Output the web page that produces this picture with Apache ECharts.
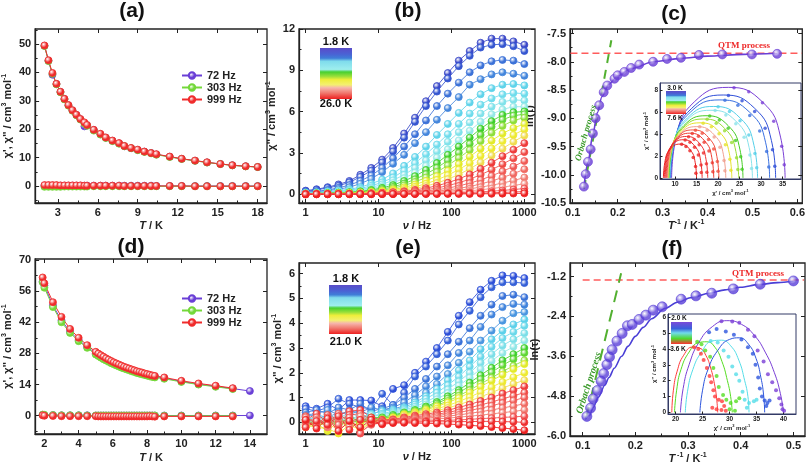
<!DOCTYPE html>
<html><head><meta charset="utf-8">
<script src="https://cdn.jsdelivr.net/npm/echarts@6/dist/echarts.min.js"></script>
<style>html,body{margin:0;padding:0;background:#fff}#c{width:808px;height:468px}</style>
</head><body><div id="c"></div>
<script>
// ---------- DATA ----------
// (a)
const aT = [2.0,2.3,2.6,2.9,3.2,3.5,3.8,4.1,4.4,4.7,5.0,5.2,5.7,6.2,6.6,7.1,7.6,8.0,8.5,9.0,9.5,10.0,10.4,11.4,12.3,13.3,14.2,15.2,16.1,17.1,18.0];
const a72p  = [49.4,44.1,39.2,35.9,33.1,30.6,28.4,26.6,25.0,23.5,21.0,21.3,19.7,18.2,17.0,15.9,15.0,14.0,13.3,12.7,12.1,11.6,11.1,10.3,9.55,8.9,8.3,7.75,7.3,6.95,6.7];
const a303p = [49.3,44.0,39.5,35.8,33.0,30.5,28.3,26.5,24.9,23.4,22.0,21.2,19.5,18.1,16.9,15.8,14.9,14.0,13.3,12.6,12.0,11.5,11.0,10.2,9.5,8.85,8.25,7.7,7.25,6.9,6.65];
const a999p = [49.5,44.3,39.8,36.0,33.2,30.7,28.5,26.7,25.1,23.6,22.4,21.5,19.8,18.4,17.1,16.0,15.1,14.1,13.4,12.8,12.1,11.6,11.2,10.35,9.6,8.95,8.35,7.75,7.3,6.95,6.7];
const a72pp  = [0.1,0.1,0.1,0.1,0.1,0.1,0.1,0.1,0.1,0.1,0.1,0.1,0.1,0.1,0.1,0.1,0.1,0.1,0.1,0.1,0.1,0.1,0.0,0.0,0.0,0.0,0.0,0.0,0.0,0.0,0.0];
const a303pp = [-0.3,-0.3,-0.3,-0.3,-0.3,-0.2,-0.2,-0.2,-0.2,-0.2,-0.2,-0.2,-0.1,-0.1,-0.1,-0.1,-0.1,-0.1,-0.1,-0.1,-0.1,-0.1,-0.1,-0.1,-0.1,-0.1,-0.1,-0.1,-0.1,-0.1,-0.1];
const a999pp = [0.3,0.3,0.3,0.3,0.2,0.2,0.2,0.2,0.2,0.2,0.1,0.1,0.1,0.1,0.1,0.1,0.1,0.0,0.0,0.0,0.0,0.0,0.0,0.0,0.0,-0.1,-0.1,-0.1,-0.1,-0.1,-0.1];
const aXTicks = [3,6,9,12,15,18];
const aYTicks = [0,10,20,30,40,50];
const aXMinor = [1.5,4.5,7.5,10.5,13.5,16.5];
const aYMinor = [-5,5,15,25,35,45,55];

// (b) and (e) frequencies
const nuHz = [1,1.41,2,2.82,3.98,5.62,7.94,11.2,15.8,22.4,31.6,44.7,63.1,89.1,126,178,251,355,501,708,1000];
const nuTicks = [1,10,100,1000];
const nuMinor = [0.9,2,3,4,5,6,7,8,9,20,30,40,50,60,70,80,90,200,300,400,500,600,700,800,900];
// (b) chi'' curves, 1.8 K (top) -> 26.0 K (bottom)
const b01 = [0.25,0.35,0.5,0.7,0.95,1.4,1.9,2.5,3.35,4.4,5.55,6.75,7.85,8.8,9.7,10.4,11.0,11.3,11.3,11.1,10.85];
const b02 = [0.2,0.3,0.45,0.6,0.85,1.25,1.7,2.3,3.1,4.1,5.25,6.4,7.45,8.4,9.3,10.05,10.65,10.85,10.9,10.75,10.4];
const b03 = [0.15,0.2,0.3,0.45,0.65,0.95,1.35,1.9,2.6,3.45,4.35,5.35,6.4,7.3,8.1,8.85,9.35,9.65,9.75,9.7,9.45];
const b04 = [0.1,0.15,0.25,0.35,0.5,0.75,1.1,1.6,2.2,2.85,3.7,4.5,5.4,6.25,7.05,7.95,8.35,8.7,8.85,8.75,8.6];
const b05 = [0.1,0.12,0.18,0.25,0.35,0.5,0.75,1.05,1.5,2.05,2.7,3.45,4.3,5.1,5.9,6.65,7.25,7.7,7.95,8.0,7.9];
const b06 = [0.08,0.1,0.14,0.2,0.28,0.4,0.6,0.85,1.2,1.7,2.25,2.9,3.6,4.35,5.1,5.85,6.5,6.95,7.25,7.35,7.3];
const b07 = [0.06,0.08,0.11,0.15,0.22,0.32,0.48,0.7,1.0,1.4,1.9,2.45,3.1,3.8,4.5,5.2,5.85,6.35,6.7,6.85,6.8];
const b08 = [0.05,0.06,0.09,0.12,0.18,0.26,0.38,0.56,0.8,1.15,1.55,2.05,2.65,3.25,3.9,4.6,5.25,5.8,6.15,6.35,6.35];
const b09 = [0.04,0.05,0.07,0.1,0.14,0.2,0.3,0.45,0.65,0.95,1.3,1.75,2.25,2.85,3.45,4.1,4.75,5.3,5.75,5.95,6.0];
const b10 = [0.03,0.04,0.06,0.08,0.11,0.16,0.24,0.36,0.52,0.76,1.07,1.45,1.9,2.45,3.0,3.65,4.3,4.9,5.4,5.7,5.8];
const b11 = [0.02,0.03,0.05,0.06,0.09,0.13,0.19,0.28,0.42,0.62,0.88,1.2,1.6,2.08,2.62,3.2,3.85,4.45,4.95,5.35,5.55];
const b12 = [0.02,0.02,0.03,0.05,0.07,0.1,0.15,0.22,0.33,0.48,0.69,0.96,1.3,1.7,2.18,2.72,3.3,3.88,4.4,4.8,5.1];
const b13 = [0.01,0.02,0.03,0.04,0.05,0.08,0.11,0.17,0.25,0.37,0.53,0.75,1.03,1.37,1.78,2.25,2.78,3.32,3.85,4.3,4.7];
const b14 = [0.01,0.01,0.02,0.03,0.04,0.06,0.09,0.13,0.19,0.28,0.41,0.58,0.8,1.08,1.42,1.83,2.3,2.8,3.3,3.8,4.25];
const b15 = [0.01,0.01,0.01,0.02,0.03,0.04,0.06,0.09,0.14,0.2,0.3,0.43,0.6,0.82,1.1,1.43,1.83,2.28,2.75,3.22,3.7];
const b16 = [0,0.01,0.01,0.01,0.02,0.03,0.05,0.07,0.1,0.15,0.22,0.31,0.44,0.61,0.82,1.08,1.4,1.77,2.17,2.6,3.05];
const b17 = [0,0,0.01,0.01,0.01,0.02,0.03,0.05,0.07,0.1,0.15,0.22,0.31,0.43,0.59,0.79,1.03,1.32,1.65,2.0,2.4];
const b18 = [0,0,0,0.01,0.01,0.01,0.02,0.03,0.05,0.07,0.1,0.15,0.21,0.3,0.41,0.55,0.73,0.95,1.2,1.48,1.8];
const b19 = [0,0,0,0,0.01,0.01,0.01,0.02,0.03,0.05,0.07,0.1,0.14,0.2,0.28,0.38,0.5,0.64,0.8,0.98,1.2];
const b20 = [0,0,0,0,0,0.01,0.01,0.01,0.02,0.03,0.04,0.06,0.09,0.13,0.18,0.24,0.31,0.4,0.5,0.62,0.75];
const b21 = [0,0,0,0,0,0,0,0.01,0.01,0.02,0.03,0.04,0.05,0.07,0.1,0.13,0.16,0.21,0.26,0.33,0.4];
const b22 = [0,0,0,0,0,0,0,0,0,0.01,0.01,0.02,0.03,0.04,0.05,0.06,0.07,0.09,0.12,0.15,0.18];
const b23 = [-0.03,-0.02,-0.02,-0.02,-0.01,-0.01,-0.01,0,0,0,0,0,0,0.01,0.01,0.01,0.02,0.02,0.03,0.04,0.05];
const bYTicks = [0,3,6,9,12];
const bYMinor = [1.5,4.5,7.5,10.5];

// (c) relaxation time vs 1/T
const cInvT  = [0.125,0.129,0.134,0.140,0.145,0.151,0.159,0.169,0.177,0.193,0.200,0.215,0.230,0.248,0.279,0.310,0.341,0.381,0.433,0.499,0.555];
const cLnTau = [-10.21,-9.99,-9.77,-9.55,-9.27,-9.0,-8.77,-8.54,-8.42,-8.30,-8.24,-8.18,-8.11,-8.05,-8.0,-7.95,-7.93,-7.88,-7.87,-7.87,-7.86];
const cFitX = [0.125,0.134,0.145,0.155,0.165,0.18,0.2,0.23,0.28,0.34,0.4,0.48,0.555];
const cFitY = [-10.22,-9.78,-9.28,-8.9,-8.62,-8.4,-8.25,-8.12,-8.0,-7.94,-7.9,-7.87,-7.85];
const cQtmX = [0.095,0.61];  const cQtmY = [-7.85,-7.85];
const cOrbX = [0.125,0.186]; const cOrbY = [-10.25,-7.62];
const cXTicks = [0.1,0.2,0.3,0.4,0.5,0.6];
const cYTicks = [-10.5,-10,-9.5,-9,-8.5,-8,-7.5];
const cXMinor = [0.15,0.25,0.35,0.45,0.55];
const cYMinor = [-10.25,-9.75,-9.25,-8.75,-8.25,-7.75];
// (c) inset Cole-Cole fits (3.0 K -> 7.6 K) and points
const cArc01 = [[9.2,0],[10.26,3.74],[14.48,6.97],[22.4,8.3],[30.32,6.97],[34.54,3.74],[35.6,0]];
const cArc02 = [[9.0,0],[9.98,3.42],[13.88,6.38],[21.2,7.6],[28.52,6.38],[32.42,3.42],[33.4,0]];
const cArc03 = [[8.9,0],[9.82,3.22],[13.52,6.01],[20.45,7.15],[27.38,6.01],[31.08,3.22],[32.0,0]];
const cArc04 = [[8.8,0],[9.62,2.95],[12.88,5.5],[19.0,6.55],[25.12,5.5],[28.38,2.95],[29.2,0]];
const cArc05 = [[8.7,0],[9.47,2.79],[12.56,5.21],[18.35,6.2],[24.14,5.21],[27.23,2.79],[28.0,0]];
const cArc06 = [[8.6,0],[9.29,2.57],[12.04,4.79],[17.2,5.7],[22.36,4.79],[25.11,2.57],[25.8,0]];
const cArc07 = [[8.5,0],[9.15,2.43],[11.76,4.54],[16.65,5.4],[21.54,4.54],[24.15,2.43],[24.8,0]];
const cArc08 = [[8.4,0],[8.99,2.27],[11.36,4.24],[15.8,5.05],[20.24,4.24],[22.61,2.27],[23.2,0]];
const cArc09 = [[8.3,0],[8.84,2.12],[11.0,3.95],[15.05,4.7],[19.1,3.95],[21.26,2.12],[21.8,0]];
const cArc10 = [[8.1,0],[8.58,1.98],[10.52,3.7],[14.15,4.4],[17.78,3.7],[19.72,1.98],[20.2,0]];
const cArc11 = [[7.9,0],[8.34,1.85],[10.12,3.44],[13.45,4.1],[16.78,3.44],[18.56,1.85],[19.0,0]];
const cArc12 = [[7.7,0],[8.1,1.71],[9.68,3.19],[12.65,3.8],[15.62,3.19],[17.2,1.71],[17.6,0]];
const cArc13 = [[7.5,0],[7.85,1.58],[9.26,2.94],[11.9,3.5],[14.54,2.94],[15.95,1.58],[16.3,0]];
const cArc14 = [[7.3,0],[7.61,1.4],[8.84,2.6],[11.15,3.1],[13.46,2.6],[14.69,1.4],[15.0,0]];
const cDot01 = [[23.72,8.26],[27.15,7.9],[30.32,6.9],[32.96,5.2],[34.81,2.9],[35.4,1.2]];
const cDot02 = [[22.42,7.56],[25.59,7.07],[28.52,6.08],[30.96,4.56],[32.67,2.58],[33.2,1.06]];
const cDot03 = [[21.61,7.11],[24.61,6.65],[27.38,5.72],[29.69,4.29],[31.31,2.43],[31.8,1.0]];
const cDot04 = [[20.02,6.52],[22.67,6.09],[25.12,5.24],[27.16,3.93],[28.59,2.23],[29.0,0.92]];
const cDot05 = [[19.32,6.17],[21.82,5.77],[24.14,4.96],[26.07,3.72],[27.42,2.11],[27.8,0.87]];
const cDot06 = [[18.06,5.67],[20.3,5.3],[22.36,4.56],[24.08,3.42],[25.28,1.94],[25.6,0.8]];
const cDot07 = [[17.47,5.37],[19.58,5.02],[21.54,4.32],[23.17,3.24],[24.31,1.84],[24.6,0.76]];
const cDot08 = [[16.54,5.02],[18.46,4.7],[20.24,4.04],[21.72,3.03],[22.76,1.72],[23.0,0.71]];
const cDot09 = [[15.73,4.68],[17.48,4.37],[19.1,3.76],[20.45,2.82],[21.4,1.6],[21.6,0.66]];
const cDot10 = [[14.76,4.38],[16.33,4.09],[17.78,3.52],[18.99,2.64],[19.84,1.5],[20.0,0.62]];
const cDot11 = [[14.01,4.08],[15.45,3.81],[16.78,3.28],[17.89,2.46],[18.67,1.39],[18.8,0.57]];
const cDot12 = [[13.15,3.78],[14.43,3.53],[15.62,3.04],[16.61,2.28],[17.3,1.29],[17.4,0.53]];
const cDot13 = [[12.34,3.48],[13.48,3.26],[14.54,2.8],[15.42,2.1],[16.04,1.19],[16.1,0.49]];
const cDot14 = [[11.54,3.08],[12.54,2.88],[13.46,2.48],[14.23,1.86],[14.77,1.05],[14.85,0.43]];
const ciXTicks = [10,15,20,25,30,35];
const ciYTicks = [0,2,4,6,8];

// (d)
const dT = [1.9,2.0,2.5,3.0,3.5,4.0,4.5,5.0,5.15,5.3,5.45,5.6,5.75,5.9,6.05,6.2,6.35,6.5,6.65,6.8,6.95,7.1,7.25,7.4,7.55,7.7,7.85,8.0,8.15,8.3,8.45,9.0,10.0,11.0,12.0,13.0,14.0];
const d72p  = [60.2,58.5,49.5,42.8,37.8,34.0,30.9,28.0,27.3,26.6,25.9,25.3,24.7,24.1,23.6,23.0,22.6,22.1,21.6,21.2,20.8,20.4,20.0,19.6,19.3,19.0,18.7,18.4,18.1,17.8,17.6,16.9,15.4,14.2,13.2,12.2,11.1];
const d303p = [60.0,57.5,48.8,42.0,37.2,33.5,30.5,27.5,26.8,26.1,25.4,24.8,24.2,23.6,23.1,22.6,22.1,21.6,21.2,20.8,20.4,20.0,19.6,19.2,18.9,18.6,18.3,18.0,17.7,17.4,17.2,16.6,15.2,14.0,13.0,12.0,null];
const d999p = [62.1,59.5,51.0,44.4,39.0,35.0,31.7,28.7,27.9,27.2,26.5,25.8,25.2,24.6,24.0,23.5,23.0,22.5,22.0,21.6,21.2,20.8,20.4,20.0,19.7,19.4,19.0,18.7,18.4,18.1,17.9,17.2,15.7,14.5,13.5,12.4,null];
const d72pp  = [0.4,0.3,0.3,0.2,0.2,0.2,0.2,0.1,0.1,0.1,0.1,0.1,0.1,0.1,0.1,0.1,0.1,0.1,0.1,0.1,0.1,0.1,0.1,0.1,0.1,0.1,0.1,0.1,0.1,0.1,0.1,0.1,0.1,0.1,0.1,0.1,0.1];
const d303pp = [0.5,0.4,0.3,0.2,0.2,0.2,0.1,0.1,0.1,0.1,0.1,0.1,0.1,0.1,0.1,0.1,0.1,0.1,0.1,0.1,0.1,0.1,0.1,0.1,0.1,0.1,0.1,0.1,0.1,0.1,0.1,0.0,0.0,0.0,0.0,0.0,null];
const d999pp = [0.2,0.0,-0.1,-0.2,-0.2,-0.2,-0.2,-0.2,-0.3,-0.3,-0.3,-0.3,-0.3,-0.3,-0.3,-0.3,-0.3,-0.3,-0.3,-0.3,-0.3,-0.3,-0.3,-0.3,-0.3,-0.3,-0.3,-0.3,-0.2,-0.3,-0.4,-0.3,-0.3,-0.3,-0.3,-0.3,null];
const dXTicks = [2,4,6,8,10,12,14];
const dYTicks = [0,14,28,42,56,70];
const dXMinor = [3,5,7,9,11,13];
const dYMinor = [-7,7,21,35,49,63];

// (e) chi'' curves, 1.8 K (top) -> 21.0 K (bottom)
const e01 = [0.65,0.55,0.75,0.5,0.9,0.9,0.88,0.65,1.35,1.5,2.0,2.45,3.0,3.65,4.3,4.85,5.35,5.71,5.93,5.91,5.82];
const e02 = [0.55,0.45,0.6,0.95,0.75,0.6,0.55,1.15,0.7,1.2,1.85,2.25,2.75,3.3,3.95,4.5,5.05,5.45,5.65,5.65,5.62];
const e03 = [0.4,0.5,0.35,0.6,0.5,0.75,0.45,0.55,0.7,1.0,1.35,1.75,2.25,2.75,3.25,3.8,4.3,4.75,5.1,5.15,5.05];
const e04 = [0.3,0.35,0.5,0.3,0.45,0.4,0.6,0.5,0.6,0.8,1.1,1.45,1.85,2.3,2.8,3.3,3.85,4.35,4.65,4.78,4.75];
const e05 = [0.25,0.3,0.2,0.4,0.35,0.45,0.3,0.5,0.55,0.65,0.9,1.2,1.55,1.95,2.4,2.85,3.3,3.7,4.1,4.4,4.45];
const e06 = [0.2,0.1,0.3,0.15,0.4,0.2,0.35,0.45,0.5,0.6,0.8,1.05,1.35,1.7,2.1,2.5,2.95,3.35,3.7,3.95,4.15];
const e07 = [0.1,0.25,0.05,0.3,0.1,0.3,0.2,0.35,0.45,0.55,0.72,0.95,1.2,1.5,1.85,2.25,2.65,3.05,3.4,3.65,3.9];
const e08 = [0.15,0.0,0.2,0.05,0.25,0.1,0.3,0.3,0.4,0.5,0.63,0.82,1.05,1.33,1.65,2.0,2.4,2.75,3.1,3.35,3.6];
const e09 = [0.0,0.1,-0.05,0.2,0.0,0.15,0.1,0.25,0.35,0.45,0.56,0.72,0.93,1.18,1.48,1.8,2.15,2.48,2.8,3.05,3.3];
const e10 = [0.1,-0.1,0.15,-0.05,0.2,0.05,0.2,0.2,0.3,0.4,0.5,0.64,0.82,1.05,1.3,1.6,1.9,2.2,2.5,2.75,3.0];
const e11 = [-0.05,0.05,-0.1,0.1,-0.05,0.1,0.05,0.15,0.25,0.38,0.47,0.6,0.76,0.96,1.2,1.46,1.74,2.02,2.3,2.55,2.8];
const e12 = [0.05,-0.15,0.0,-0.1,0.1,-0.05,0.1,0.15,0.22,0.35,0.44,0.55,0.69,0.86,1.07,1.3,1.55,1.8,2.05,2.28,2.5];
const e13 = [-0.15,-0.05,-0.35,0.05,-0.2,0.0,0.05,0.1,0.2,0.32,0.4,0.5,0.64,0.8,0.98,1.2,1.44,1.68,1.92,2.15,2.35];
const e14 = [-0.1,-0.2,-0.25,-0.45,-0.1,-0.3,0.0,0.08,0.18,0.3,0.36,0.44,0.55,0.68,0.84,1.02,1.22,1.42,1.63,1.82,2.0];
const e15 = [-0.2,-0.1,-0.05,-0.3,0.0,-0.15,-0.05,0.05,0.15,0.26,0.31,0.38,0.47,0.58,0.71,0.86,1.03,1.2,1.38,1.55,1.7];
const e16 = [0.1,0.35,0.0,0.3,0.45,0.5,0.2,0.1,0.12,0.2,0.27,0.33,0.4,0.49,0.6,0.72,0.86,1.0,1.16,1.3,1.45];
const e17 = [0.25,-0.1,0.3,0.1,0.3,0.35,0.1,0.05,0.1,0.16,0.22,0.27,0.33,0.4,0.49,0.59,0.7,0.82,0.95,1.07,1.2];
const e18 = [0.0,0.2,-0.15,0.35,0.0,0.2,0.0,0.02,0.08,0.13,0.18,0.22,0.27,0.33,0.4,0.48,0.57,0.67,0.78,0.88,1.0];
const e19 = [0.2,0.0,0.1,-0.2,0.15,-0.4,-0.1,0.0,0.06,0.1,0.14,0.17,0.21,0.25,0.3,0.36,0.43,0.5,0.58,0.66,0.75];
const e20 = [-0.1,0.1,-0.2,0.15,-0.15,0.25,0.05,-0.02,0.04,0.07,0.09,0.12,0.14,0.17,0.21,0.25,0.29,0.34,0.39,0.44,0.5];
const e21 = [0.05,-0.15,0.2,-0.1,0.2,-0.45,0.0,-0.03,0.02,0.04,0.05,0.06,0.07,0.08,0.1,0.12,0.15,0.17,0.2,0.22,0.25];
const e22 = [-0.2,0.05,-0.1,0.25,-0.3,0.1,-0.05,-0.05,0.0,0.01,0.01,0.02,0.02,0.02,0.03,0.03,0.04,0.04,0.03,0.02,0.0];
const e23 = [0.1,-0.25,0.15,-0.35,0.05,-0.2,0.1,-0.08,-0.03,-0.02,-0.03,-0.04,-0.05,-0.07,-0.09,-0.12,-0.15,-0.19,-0.23,-0.27,-0.32];
const eYTicks = [0,1,2,3,4,5,6];
const eYMinor = [0.5,1.5,2.5,3.5,4.5,5.5];

// (f)
const fInvT  = [0.108,0.115,0.120,0.128,0.135,0.140,0.146,0.151,0.156,0.165,0.175,0.185,0.194,0.207,0.220,0.234,0.251,0.287,0.315,0.345,0.386,0.437,0.500];
const fLnTau = [-5.41,-5.16,-4.88,-4.63,-4.35,-4.12,-3.85,-3.62,-3.40,-3.14,-2.91,-2.68,-2.64,-2.49,-2.36,-2.21,-2.11,-1.88,-1.78,-1.70,-1.57,-1.43,-1.33];
const fFitX = [0.105,0.113,0.12,0.13,0.142,0.15,0.16,0.174,0.186,0.2,0.215,0.231,0.256,0.28,0.307,0.34,0.37,0.4,0.433,0.47,0.5];
const fFitY = [-5.5,-5.38,-5.14,-4.83,-4.47,-4.24,-3.96,-3.6,-3.3,-3.0,-2.73,-2.47,-2.16,-1.97,-1.83,-1.7,-1.6,-1.52,-1.44,-1.38,-1.34];
const fQtmX = [0.1,0.52];   const fQtmY = [-1.3,-1.3];
const fOrbX = [0.106,0.173]; const fOrbY = [-5.48,-1.1];
const fXTicks = [0.1,0.2,0.3,0.4,0.5];
const fYTicks = [-6.0,-4.8,-3.6,-2.4,-1.2];
const fXMinor = [0.15,0.25,0.35,0.45];
const fYMinor = [-5.4,-4.2,-3.0,-1.8];
// (f) inset (2.0 K -> 3.6 K)
const fArcP = [[20.9,0],[21.4,1.5],[22.5,3.0],[24.3,4.4],[26.8,5.4],[29.5,5.78],[32.2,5.55],[34.6,4.85],[36.6,3.8],[38.3,2.5],[39.4,1.2],[40.0,0]];
const fArcB = [[24.5,0],[25.0,1.4],[26.0,2.7],[27.8,3.9],[30.0,4.6],[31.8,4.7],[33.5,4.3],[34.9,3.4],[35.8,2.2],[36.3,1.1],[36.5,0]];
const fArcC = [[21.8,0],[22.2,1.3],[23.2,2.7],[24.8,3.8],[26.8,4.5],[28.5,4.55],[30.2,4.2],[31.7,3.3],[32.8,2.0],[33.4,1.0],[33.6,0]];
const fArcG = [[19.8,0],[20.2,1.4],[21.0,2.7],[22.5,3.8],[24.3,4.4],[25.8,4.45],[27.3,4.1],[28.6,3.2],[29.6,2.0],[30.2,1.0],[30.5,0]];
const fArcR = [[19.3,0],[19.6,1.4],[20.3,2.6],[21.5,3.6],[23.2,4.12],[24.5,4.05],[25.6,3.6],[26.5,2.8],[27.2,1.8],[27.6,0.9],[27.8,0]];
const fDotP = [[28.5,5.75],[30.5,5.73],[31.8,5.65],[33.4,5.2],[34.6,4.8],[35.2,3.9],[36.3,3.2],[37.1,2.4],[37.9,1.9],[38.6,1.4],[39.2,0.9],[39.6,0.5],[39.8,0.2],[40.1,0.1]];
const fDotB = [[26.2,5.05],[27.6,5.25],[29.3,5.1],[30.8,4.9],[32.2,4.6],[33.4,4.1],[34.3,3.7],[34.8,3.0],[35.3,2.2],[35.6,1.5],[36.0,1.0],[36.5,0.75],[37.0,0.6],[37.4,0.75],[36.8,0.4]];
const fDotC = [[26.5,4.5],[27.8,4.4],[28.9,3.9],[29.8,3.5],[30.5,2.9],[31.2,2.4],[31.8,2.0],[32.4,1.3],[32.8,0.8],[33.6,0.6],[34.5,0.7],[35.0,0.8],[33.2,0.3]];
const fDotG = [[24.0,4.45],[24.8,4.3],[25.5,3.9],[26.4,3.5],[27.0,2.8],[27.6,2.3],[28.0,1.6],[28.8,1.1],[29.4,0.8],[30.2,0.6],[31.2,0.7],[31.8,0.9],[30.0,0.2],[31.0,0.1]];
const fDotR = [[23.4,4.1],[24.2,4.0],[24.7,3.7],[25.2,3.3],[25.8,2.8],[26.3,2.3],[26.6,1.9],[27.0,1.4],[27.3,1.0],[28.0,0.8],[28.6,0.7],[29.0,0.4],[26.8,0.3],[27.6,0.2],[28.5,0.15],[29.3,0.1]];
const fiXTicks = [20,25,30,35,40];
const fiYTicks = [0,1,2,3,4,5,6];

// ---------- STYLE ----------
const FF = "'Liberation Sans', Arial, sans-serif";
const PUR = '#6a3fd6', GRN = '#74d83a', RED = '#f02c2c';
const bCols = ['#3a48c8','#3556d0','#3c72d8','#4486dc','#5fd3ea','#6fdcec','#80e2ea','#93e8e6','#3ccf2a','#5ed634','#8ede3a','#e2ea2a','#eeea30','#f0dc50','#ee3b3b','#ef4a45','#f05a55','#f06a62','#f07a70','#f28a80','#f05050','#ee3030','#ee2222'];
const eCols = ['#2d4fd8','#3560d8','#3a72d8','#4184dc','#4a96e0','#5cd0ea','#6ad8ea','#7cdfe8','#90e6e6','#3ccf2a','#5ed634','#8ede3a','#e2ea2a','#eeea30','#f0dc50','#ee3b3b','#ef4a45','#f05a55','#f06a62','#f07a70','#f05050','#ee3030','#ee2222'];
const cCols = ['#7a3fd6','#2f4fd8','#3a70e0','#55cfe8','#88e2ea','#44cc22','#99dd33','#e6e22a','#f0a090','#f05040','#ee3a30','#ee3030','#ec2828','#ea2020'];

function sphere(c){
  return {type:'radial',x:0.38,y:0.35,r:0.8,colorStops:[{offset:0,color:'#ffffff'},{offset:0.5,color:c},{offset:1,color:c}]};
}
function mk(name, xs, ys, color, g, o){
  return Object.assign({
    type:'line', name:name, xAxisIndex:g, yAxisIndex:g,
    data: xs.map((x,i)=>[x, ys[i]]),
    symbol:'circle', symbolSize:7, showSymbol:true,
    lineStyle:{color:color, width:1},
    itemStyle:{color:sphere(color), borderColor:color, borderWidth:0.8},
    silent:true, animation:false
  }, o||{});
}
function plain(xs, ys, color, g, ls, o){
  return Object.assign({
    type:'line', xAxisIndex:g, yAxisIndex:g,
    data: xs.map((x,i)=>[x, ys[i]]),
    showSymbol:false, symbol:'none',
    lineStyle:Object.assign({color:color, width:1.5}, ls||{}),
    silent:true, animation:false
  }, o||{});
}
function arc(pairs, color, g){
  return {type:'line', xAxisIndex:g, yAxisIndex:g, data:pairs, smooth:0.5, showSymbol:false, symbol:'none',
    lineStyle:{color:color, width:1}, silent:true, animation:false, z:4};
}
function dots(pairs, color, g, size){
  return {type:'scatter', xAxisIndex:g, yAxisIndex:g, data:pairs, symbol:'circle', symbolSize:size||3.5,
    itemStyle:{color:color}, silent:true, animation:false, z:5};
}

const nameRich = (fs) => ({
  i:{fontStyle:'italic', fontWeight:'bold', fontSize:fs, fontFamily:FF, color:'#222'},
  s:{fontSize:Math.round(fs*0.65), fontWeight:'bold', fontFamily:FF, verticalAlign:'top', color:'#222'}
});
function ax(dim, g, min, max, ticks, fmt, name, gap, isLog, small){
  const fs = small ? 6.5 : 11;
  const nfs = small ? 6 : 11;
  const a = {
    type: isLog ? 'log' : 'value', gridIndex:g, min:min, max:max,
    position: dim==='x' ? 'bottom' : 'left',
    axisLine:{show:true, onZero:false, lineStyle:{color: small?'#333a66':'#222', width: small?1:1.3}},
    axisTick:{show:true, inside:true, length: small?2.5:4, customValues:ticks, lineStyle:{color:'#222', width:1}},
    axisLabel:{customValues:ticks, formatter:fmt, color:'#222', fontSize:fs, fontWeight:'bold', fontFamily:FF, margin: small?2:4},
    splitLine:{show:false}, minorTick:{show:false},
    name:name, nameLocation:'middle', nameGap:gap,
    nameTextStyle:{color:'#222', fontSize:nfs, fontWeight:'bold', fontFamily:FF, lineHeight: small?8:14, rich:nameRich(nfs)}
  };
  if (isLog) a.logBase = 10;
  if (dim==='y') a.nameRotate = 90;
  return a;
}
// tick-only companion axes (mirrored majors on top/right, minors on bottom/left)
function tk(g, min, max, ticks, pos, len, isLog){
  const a = {type: isLog?'log':'value', gridIndex:g, min:min, max:max, position:pos,
    axisLine:{show:false, onZero:false},
    axisTick:{show:true, inside:true, length:len, customValues:ticks, lineStyle:{color:'#222', width:1}},
    axisLabel:{show:false}, splitLine:{show:false}, minorTick:{show:false}};
  if (isLog) a.logBase = 10;
  return a;
}
const f0 = v => String(Math.round(v));
const f1 = v => v.toFixed(1);

const grids = [
  {left:32, top:29, width:235, height:174},
  {left:299, top:29, width:236, height:174},
  {left:570, top:29, width:235, height:174},
  {left:660, top:83, width:141, height:96},
  {left:32, top:259, width:235, height:175},
  {left:299, top:263, width:236, height:171},
  {left:570, top:263, width:235, height:173},
  {left:668, top:314, width:128, height:100}
].map((g,i)=>Object.assign(g,{show:true, borderColor:(i===3||i===7)?'#333a66':'#222', borderWidth:(i===3||i===7)?1:1.3, backgroundColor:(i===3||i===7)?'#fff':'transparent', containLabel:false}));

const chiName = "χ', χ'' / cm{s|3} mol{s|-1}";
const xAxes = [
  ax('x',0,1.3,18.7,aXTicks,f0,'{i|T} / K',12),
  ax('x',1,0.81,1400,nuTicks,f0,'{i|ν} / Hz',12,true),
  ax('x',2,0.094,0.611,cXTicks,f1,'{i|T}{s|-1} / K{s|-1}',12),
  ax('x',3,6.5,39.3,ciXTicks,f0,"χ' / cm{s|3} mol{s|-1}",8,false,true),
  ax('x',4,1.46,15.0,dXTicks,f0,'{i|T} / K',17),
  ax('x',5,0.81,1400,nuTicks,f0,'{i|ν} / Hz',16,true),
  ax('x',6,0.076,0.522,fXTicks,f1,'{i|T}{s| -1} / K{s|-1}',15),
  ax('x',7,18.6,42.3,fiXTicks,f0,"χ' / cm{s|3} mol{s|-1}",8,false,true),
  // companions
  tk(0,1.3,18.7,aXMinor,'bottom',2.5), tk(0,1.3,18.7,aXTicks,'top',4),
  tk(1,0.81,1400,nuMinor,'bottom',2.5,true), tk(1,0.81,1400,nuTicks,'top',4,true),
  tk(2,0.094,0.611,cXMinor,'bottom',2.5), tk(2,0.094,0.611,cXTicks,'top',4),
  tk(4,1.46,15.0,dXMinor,'bottom',2.5), tk(4,1.46,15.0,dXTicks,'top',4),
  tk(5,0.81,1400,nuMinor,'bottom',2.5,true), tk(5,0.81,1400,nuTicks,'top',4,true),
  tk(6,0.076,0.522,fXMinor,'bottom',2.5), tk(6,0.076,0.522,fXTicks,'top',4)
];
const yAxes = [
  ax('y',0,-6,55.3,aYTicks,f0,chiName,15),
  ax('y',1,-0.65,12,bYTicks,f0,"χ'' / cm{s|3} mol{s|-1}",15),
  ax('y',2,-10.5,-7.42,cYTicks,f1,'ln(τ)',28),
  ax('y',3,-0.1,8.7,ciYTicks,f0,"χ'' / cm{s|3} mol{s|-1}",7,false,true),
  ax('y',4,-8.2,70.4,dYTicks,f0,chiName,15),
  ax('y',5,-0.47,6.43,eYTicks,f0,"χ'' / cm{s|3} mol{s|-1}",10),
  ax('y',6,-6.0,-0.79,fYTicks,f1,'ln(τ)',28),
  ax('y',7,-0.1,6.2,fiYTicks,f0,"χ'' / cm{s|3} mol{s|-1}",6,false,true),
  tk(0,-6,55.3,aYMinor,'left',2.5), tk(0,-6,55.3,aYTicks,'right',4),
  tk(1,-0.65,12,bYMinor,'left',2.5), tk(1,-0.65,12,bYTicks,'right',4),
  tk(2,-10.5,-7.42,cYMinor,'left',2.5), tk(2,-10.5,-7.42,cYTicks,'right',4),
  tk(4,-8.2,70.4,dYMinor,'left',2.5), tk(4,-8.2,70.4,dYTicks,'right',4),
  tk(5,-0.47,6.43,eYMinor,'left',2.5), tk(5,-0.47,6.43,eYTicks,'right',4),
  tk(6,-6.0,-0.79,fYMinor,'left',2.5), tk(6,-6.0,-0.79,fYTicks,'right',4)
];

const series = [];
// (a)
series.push(mk('72 Hz',aT,a72p,PUR,0), mk('303 Hz',aT,a303p,GRN,0), mk('999 Hz',aT,a999p,RED,0));
series.push(mk('72 Hz',aT,a72pp,PUR,0), mk('303 Hz',aT,a303pp,GRN,0), mk('999 Hz',aT,a999pp,RED,0));
// (b)
[b01,b02,b03,b04,b05,b06,b07,b08,b09,b10,b11,b12,b13,b14,b15,b16,b17,b18,b19,b20,b21,b22,b23]
  .forEach((ys,i)=>series.push(mk('b'+i,nuHz,ys,bCols[i],1,{lineStyle:{color:bCols[i],width:1,opacity:0.85}})));
// (c)
series.push(plain(cQtmX,cQtmY,'#ff5c5c',2,{type:[7,4],width:1.5}));
series.push(plain(cOrbX,cOrbY,'#52b030',2,{type:[9,7],width:2}));
series.push(plain(cFitX,cFitY,'#6a3fd6',2,{width:1.6},{smooth:0.3,smoothMonotone:'x'}));
series.push(mk('c',cInvT,cLnTau,'#6a3fd6',2,{type:'scatter',symbolSize:9,z:4}));
// (c) inset
[cArc01,cArc02,cArc03,cArc04,cArc05,cArc06,cArc07,cArc08,cArc09,cArc10,cArc11,cArc12,cArc13,cArc14]
  .forEach((p,i)=>series.push(arc(p,cCols[i],3)));
[cDot01,cDot02,cDot03,cDot04,cDot05,cDot06,cDot07,cDot08,cDot09,cDot10,cDot11,cDot12,cDot13,cDot14]
  .forEach((p,i)=>series.push(dots(p,cCols[i],3,3.5)));
// (d)
series.push(mk('72 Hz',dT,d72p,PUR,4), mk('303 Hz',dT,d303p,GRN,4), mk('999 Hz',dT,d999p,RED,4));
series.push(mk('72 Hz',dT,d72pp,PUR,4), mk('303 Hz',dT,d303pp,GRN,4), mk('999 Hz',dT,d999pp,RED,4));
// (e)
[e01,e02,e03,e04,e05,e06,e07,e08,e09,e10,e11,e12,e13,e14,e15,e16,e17,e18,e19,e20,e21,e22,e23]
  .forEach((ys,i)=>series.push(mk('e'+i,nuHz,ys,eCols[i],5,{lineStyle:{color:eCols[i],width:1,opacity:0.85}})));
// (f)
series.push(plain(fQtmX,fQtmY,'#ff5c5c',6,{type:[7,4],width:1.5}));
series.push(plain(fOrbX,fOrbY,'#52b030',6,{type:[12,8],width:2}));
series.push(plain(fFitX,fFitY,'#4a3fd6',6,{width:1.6},{smooth:0.3,smoothMonotone:'x'}));
series.push(mk('f',fInvT,fLnTau,'#5a40d8',6,{type:'scatter',symbolSize:10,z:4}));
// (f) inset
[[fArcR,'#ff3b3b'],[fArcG,'#55dd22'],[fArcC,'#55dde8'],[fArcB,'#2d55dd'],[fArcP,'#7a3fd6']].forEach(a=>series.push(arc(a[0],a[1],7)));
[[fDotR,'#ff3b3b'],[fDotG,'#55dd22'],[fDotC,'#55dde8'],[fDotB,'#2d55dd'],[fDotP,'#7a3fd6']].forEach(a=>series.push(dots(a[0],a[1],7,4)));

// ---------- GRAPHICS (titles, colour keys, annotations) ----------
function title(t,x,y){return {type:'text',x:x,y:y,z:100,style:{text:t,font:'bold 21px '+FF,fill:'#111',align:'center',verticalAlign:'middle'}};}
function txt(t,x,y,fs,o){return {type:'text',x:x,y:y,z:100,style:Object.assign({text:t,font:'bold '+fs+'px '+FF,fill:'#111',align:'center',verticalAlign:'middle'},o||{})};}
function key(x,y,w,h,stops){return {type:'rect',z:100,shape:{x:x,y:y,width:w,height:h},style:{fill:{type:'linear',x:0,y:0,x2:0,y2:1,colorStops:stops}}};}
const keyStops = [
  {offset:0,color:'#5a4cc8'},{offset:0.12,color:'#4a62d4'},{offset:0.2,color:'#3f7ed8'},
  {offset:0.26,color:'#7fdcec'},{offset:0.42,color:'#9eeeee'},{offset:0.47,color:'#46d030'},
  {offset:0.56,color:'#9ee03a'},{offset:0.62,color:'#eeee3a'},{offset:0.72,color:'#f4f070'},
  {offset:0.78,color:'#f6b6ac'},{offset:0.88,color:'#f07a70'},{offset:1,color:'#ee2020'}];
const graphic = [
  title('(a)',132,11), title('(b)',408,11), title('(c)',674,14),
  title('(d)',131,247), title('(e)',408,248), title('(f)',672,249),
  key(320,48,32,51,keyStops), txt('1.8 K',336,42,11), txt('26.0 K',336,104,11),
  key(329,285,33,49,keyStops), txt('1.8 K',346,279,11), txt('21.0 K',346,342,11),
  key(666,91,20,23,keyStops), txt('3.0 K',675,88,6.5), txt('7.6 K',675,118,6.5),
  key(671,322,21,22,[{offset:0,color:'#7a4ad8'},{offset:0.3,color:'#3a60dc'},{offset:0.5,color:'#70dcea'},{offset:0.75,color:'#50d830'},{offset:1,color:'#ff3030'}]),
  txt('2.0 K',679,318,6.5), txt('3.6 K',678,349,6.5),
  txt('QTM process',744,46,9,{font:"bold 9px 'Liberation Serif', serif",fill:'#ee2a2a'}),
  txt('QTM process',758,274,9,{font:"bold 9px 'Liberation Serif', serif",fill:'#ee2a2a'}),
  {type:'text',x:586,y:133,rotation:1.29,z:100,style:{text:'Orbach process',font:"italic bold 9px 'Liberation Serif', serif",fill:'#3a9a2a',align:'center',verticalAlign:'middle'}},
  {type:'text',x:589,y:383,rotation:1.26,z:100,style:{text:'Orbach process',font:"italic bold 10px 'Liberation Serif', serif",fill:'#3a9a2a',align:'center',verticalAlign:'middle'}}
];

const legendBase = {orient:'vertical', itemWidth:20, itemHeight:8, itemGap:1, data:['72 Hz','303 Hz','999 Hz'],
  textStyle:{fontSize:11, fontWeight:'bold', fontFamily:FF, color:'#222'}, selectedMode:false};

const chart = echarts.init(document.getElementById('c'), null, {renderer:'canvas'});
chart.setOption({
  animation:false, backgroundColor:'#fff',
  textStyle:{fontFamily:FF},
  grid:grids, xAxis:xAxes, yAxis:yAxes, series:series, graphic:graphic,
  legend:[Object.assign({left:176, top:65}, legendBase), Object.assign({left:176, top:288}, legendBase)]
});
</script></body></html>
